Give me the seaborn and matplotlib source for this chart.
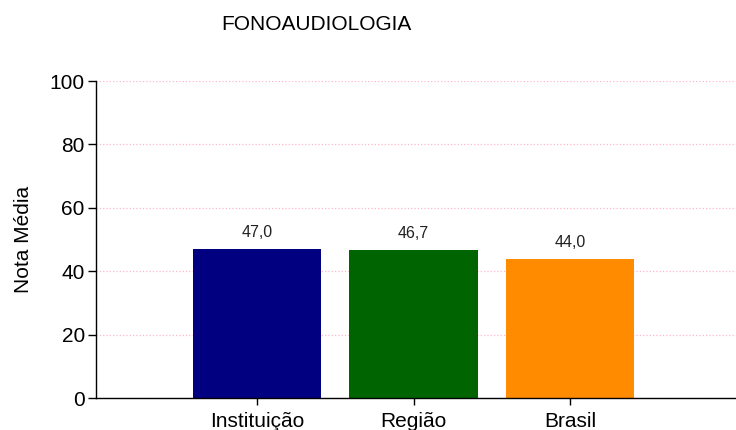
import seaborn as sns
import matplotlib.pyplot as plt
import pandas as pd

# dados
categorias = ["Instituição", "Região", "Brasil"]
notas = [47.0, 46.7, 44.0]
cores = ["#000080", "#006400", "#FF8C00"]
rotulos = ["47,0", "46,7", "44,0"]

df = pd.DataFrame({"categoria": categorias, "nota": notas})

sns.set_style("white")
plt.rcParams["font.family"] = ["Liberation Sans", "DejaVu Sans"]
plt.rcParams["text.color"] = "black"
plt.rcParams["xtick.color"] = "black"
plt.rcParams["ytick.color"] = "black"
plt.rcParams["axes.labelcolor"] = "black"

fig = plt.figure(figsize=(7.36, 4.30), dpi=100)
ax = fig.add_axes([0.1304, 0.0744, 0.8696, 0.7372])

sns.barplot(data=df, x="categoria", y="nota", hue="categoria", palette=cores,
            saturation=1, legend=False, width=0.82, ax=ax, edgecolor="none")

for i, (v, r) in enumerate(zip(notas, rotulos)):
    ax.text(i, v + 2.8, r, ha="center", va="bottom", fontsize=11.5, color="#222222")

ax.set_ylim(0, 100)
ax.set_xlim(-1.03, 3.06)
ax.set_yticks([0, 20, 40, 60, 80, 100])
ax.tick_params(axis="y", labelsize=15, length=6, width=1, direction="out", left=True, pad=2)
ax.tick_params(axis="x", labelsize=15, length=5, width=1, direction="out", bottom=True, pad=5)
ax.grid(axis="y", color="#ffb6c6", linestyle=":", linewidth=0.9)
ax.grid(axis="x", visible=False)
ax.set_axisbelow(True)
ax.set_xlabel("")
ax.set_ylabel("Nota Média", fontsize=15, labelpad=12)

for s in ["top", "right"]:
    ax.spines[s].set_visible(False)
for s in ["left", "bottom"]:
    ax.spines[s].set_color("black")
    ax.spines[s].set_linewidth(1)

fig.text(0.43, 0.944, "FONOAUDIOLOGIA", ha="center", va="center", fontsize=15)

fig.savefig("out.png", dpi=100)
